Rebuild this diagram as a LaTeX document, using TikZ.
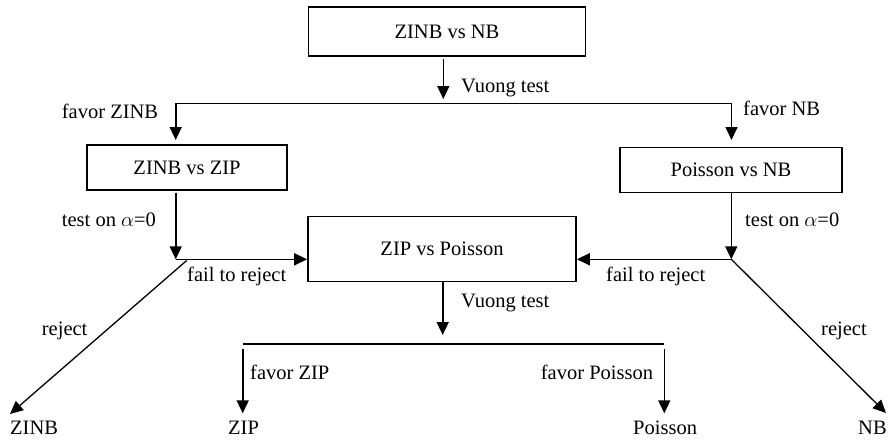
\documentclass[tikz,border=0pt]{standalone}
\usepackage{fontspec}
\setmainfont{Liberation Serif}
\usetikzlibrary{arrows.meta}
\begin{document}
\begin{tikzpicture}[x=1pt,y=-1pt,
  every node/.style={font=\fontsize{20.5}{24}\selectfont},
  box/.style={draw,line width=1.6pt,inner sep=0pt,align=center},
  lbl/.style={anchor=base west,inner sep=0pt},
  ln/.style={line width=1.6pt},
  arr/.style={line width=1.6pt,-{Triangle[length=13pt,width=12pt]}}]
\useasboundingbox (0,0) rectangle (891,439);
% boxes
\node[box,minimum width=277pt,minimum height=49pt] (top) at (447,31.7) {ZINB vs NB};
\node[box,minimum width=200pt,minimum height=45pt] (zz) at (187,167.5) {ZINB vs ZIP};
\node[box,minimum width=222pt,minimum height=45pt] (pn) at (731,170) {Poisson vs NB};
\node[box,minimum width=268pt,minimum height=65pt] (zp) at (442,249) {ZIP vs Poisson};
% end labels
\node[lbl] (ozinb) at (10,434) {ZINB};
\node[lbl] (ozip) at (228,434) {ZIP};
\node[lbl] (opois) at (633,434) {Poisson};
\node[lbl] (onb) at (858,434) {NB};
% coordinates
\coordinate (t1) at (443.3,59);
\coordinate (t2) at (443.3,99);
\coordinate (hl) at (175.7,103.3);
\coordinate (hr) at (731.5,103.3);
\coordinate (zzb) at (175.7,192.7);
\coordinate (cl) at (175.7,259.3);
\coordinate (cl2) at (186.7,260.5);
\coordinate (pnb) at (731.3,192.7);
\coordinate (cr) at (731.3,259.3);
\coordinate (b1) at (442.7,282);
\coordinate (b2) at (442.7,335);
\coordinate (bl) at (242.7,344);
\coordinate (br) at (664.3,344);
\coordinate (bl2) at (242.7,349);
\coordinate (br2) at (664.3,349);
% connectors
\draw[arr] (t1) -- (t2);
\draw[ln] (hl) -- (hr);
\draw[arr] (hl) -- (175.7,140);
\draw[arr] (hr) -- (731.5,140);
\draw[arr] (zzb) -- (cl);
\draw[arr] (cl) -- (zp.west |- cl);
\draw[arr,line width=1.3pt] (cl2) -- (10,414);
\draw[arr] (pnb) -- (cr);
\draw[arr] (cr) -- (zp.east |- cr);
\draw[arr,line width=1.3pt] (cr) -- (886,413);
\draw[arr] (b1) -- (b2);
\draw[ln] (bl) -- (br);
\draw[arr] (bl2) -- (242.7,413.3);
\draw[arr] (br2) -- (664.3,413.3);
% labels
\node[lbl] (l1) at (461,92) {Vuong test};
\node[lbl] (l2) at (61.7,118) {favor ZINB};
\node[lbl] (l3) at (743,115.7) {favor NB};
\node[lbl] (l4) at (61.7,226.5) {test on $\alpha$=0};
\node[lbl] (l5) at (745,226) {test on $\alpha$=0};
\node[lbl] (l6) at (187,281.5) {fail to reject};
\node[lbl] (l7) at (606,281) {fail to reject};
\node[lbl] (l8) at (41.7,335) {reject};
\node[lbl] (l9) at (821,335) {reject};
\node[lbl] (l10) at (461,307) {Vuong test};
\node[lbl] (l11) at (250,379) {favor ZIP};
\node[lbl] (l12) at (540.7,379) {favor Poisson};
\end{tikzpicture}
\end{document}
